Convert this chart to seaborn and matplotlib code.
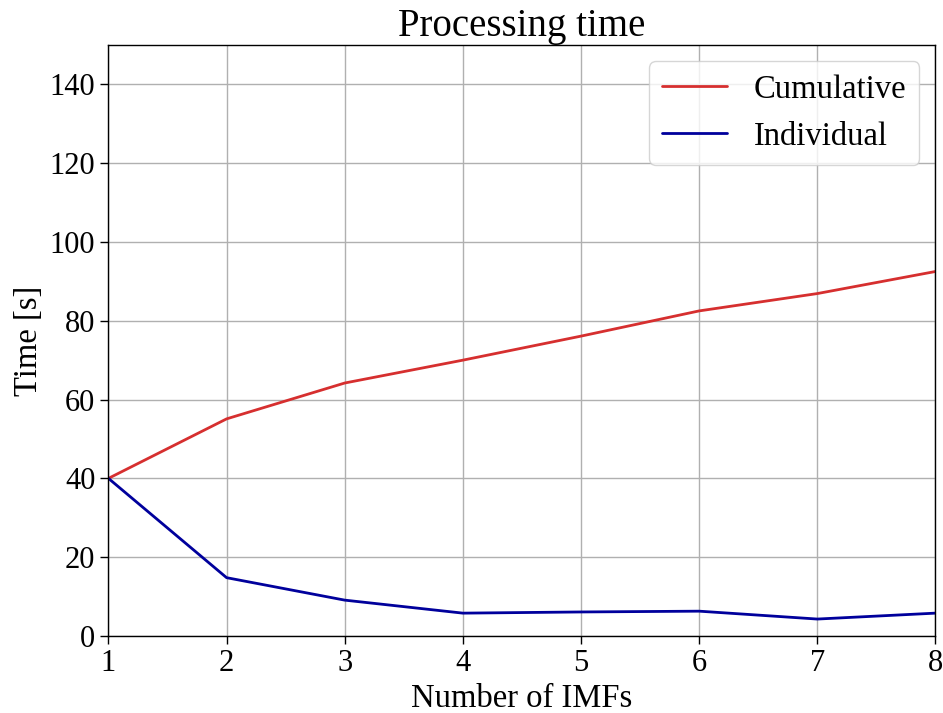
import numpy as np
import pandas as pd
import matplotlib
matplotlib.use("Agg")
import matplotlib.pyplot as plt
import seaborn as sns

# data
n_imfs = [1, 2, 3, 4, 5, 6, 7, 8]
cumulative = [40.0, 55.1, 64.2, 70.0, 76.1, 82.5, 86.9, 92.5]
individual = [40.0, 14.8, 9.1, 5.8, 6.1, 6.3, 4.3, 5.8]
series_names = ["Cumulative", "Individual"]
series_colors = ["#d62f2f", "#00009c"]

sns.set_style("ticks")
plt.rcParams['font.family'] = ['Liberation Serif', 'DejaVu Serif']
plt.rcParams['text.color'] = 'black'
plt.rcParams['axes.labelcolor'] = 'black'

df = pd.DataFrame({
    "n": n_imfs * 2,
    "time": cumulative + individual,
    "kind": [series_names[0]] * len(n_imfs) + [series_names[1]] * len(n_imfs),
})

fig, ax = plt.subplots(figsize=(9.43, 7.13), dpi=100)
sns.lineplot(data=df, x="n", y="time", hue="kind", hue_order=series_names,
             palette=series_colors, linewidth=2, ax=ax)

ax.set_xlim(1, 8)
ax.set_ylim(0, 150)
ax.set_yticks(np.arange(0, 141, 20))
ax.set_xticks(n_imfs)
ax.grid(True, color="#b0b0b0", linewidth=1)
for s in ax.spines.values():
    s.set_color("black")
    s.set_linewidth(1)
ax.tick_params(axis="both", labelsize=22, colors="black", length=6, width=1)

ax.set_title("Processing time", fontsize=28, color="black")
ax.set_xlabel("Number of IMFs", fontsize=23.5)
ax.set_ylabel("Time [s]", fontsize=23.5)

leg = ax.legend(loc="upper right", fontsize=23.5, frameon=True, fancybox=True)
leg.set_title(None)
for t in leg.get_texts():
    t.set_color("black")

fig.subplots_adjust(left=0.115, right=0.992, top=0.937, bottom=0.108)
fig.savefig("out.png", dpi=100)
